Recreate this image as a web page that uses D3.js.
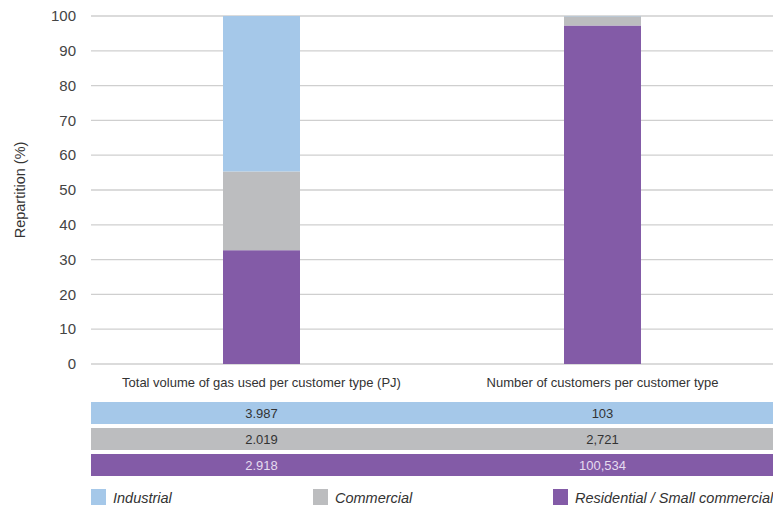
<!DOCTYPE html>
<html>
<head>
<meta charset="utf-8">
<script src="https://cdn.jsdelivr.net/npm/d3@7"></script>
<style>
  html, body { margin: 0; padding: 0; background: #fff; }
  svg { display: block; font-family: "Liberation Sans", "Helvetica Neue", Arial, sans-serif; }
</style>
</head>
<body>
<svg id="chart" width="773" height="507"></svg>
<script>
// Measures shown as columns
const categories = [
  "Total volume of gas used per customer type (PJ)",
  "Number of customers per customer type"
];
// Customer types, bottom of the stack first
const seriesNames = ["Residential / Small commercial", "Commercial", "Industrial"];
const residential = [2.918, 100534];
const commercial = [2.019, 2721];
const industrial = [3.987, 103];
// Labels printed in the table under the chart
const residentialLabels = ["2.918", "100,534"];
const commercialLabels = ["2.019", "2,721"];
const industrialLabels = ["3.987", "103"];
const yTicks = [0, 10, 20, 30, 40, 50, 60, 70, 80, 90, 100];

const colors = {
  "Industrial": "#a5c8e9",
  "Commercial": "#bcbdbf",
  "Residential / Small commercial": "#835ba7"
};

const svg = d3.select("#chart");
const plotLeft = 91, plotRight = 773, plotTop = 16, plotBottom = 364;

const x = d3.scaleBand().domain(categories).range([plotLeft, plotRight]).paddingInner(0).paddingOuter(0);
const y = d3.scaleLinear().domain([0, 100]).range([plotBottom, plotTop]);
const barW = 77;

// Gridlines and tick labels
const gy = svg.append("g");
gy.selectAll("line").data(yTicks).join("line")
  .attr("x1", plotLeft).attr("x2", plotRight)
  .attr("y1", d => y(d)).attr("y2", d => y(d))
  .attr("stroke", "#cfcfcf").attr("stroke-width", 1.3);
gy.selectAll("text").data(yTicks).join("text")
  .attr("x", 76).attr("y", d => y(d)).attr("dy", "0.35em")
  .attr("text-anchor", "end").attr("font-size", 15).attr("fill", "#444")
  .text(d => d);

svg.append("text")
  .attr("transform", `translate(25,${(plotTop + plotBottom) / 2}) rotate(-90)`)
  .attr("text-anchor", "middle").attr("font-size", 14.5).attr("fill", "#333")
  .text("Repartition (%)");

// Stack the shares (percent of each column's total)
const rows = categories.map((c, i) => {
  const total = residential[i] + commercial[i] + industrial[i];
  return {
    cat: c,
    "Residential / Small commercial": residential[i] / total * 100,
    "Commercial": commercial[i] / total * 100,
    "Industrial": industrial[i] / total * 100
  };
});
const stacked = d3.stack().keys(seriesNames)(rows);

svg.append("g").selectAll("g").data(stacked).join("g")
  .attr("fill", d => colors[d.key])
  .selectAll("rect").data(d => d).join("rect")
  .attr("x", d => x(d.data.cat) + x.bandwidth() / 2 - barW / 2)
  .attr("width", barW)
  .attr("y", d => y(d[1]))
  .attr("height", d => y(d[0]) - y(d[1]));

// Category labels
svg.append("g").selectAll("text").data(categories).join("text")
  .attr("x", d => x(d) + x.bandwidth() / 2).attr("y", 387)
  .attr("text-anchor", "middle").attr("font-size", 13).attr("fill", "#333")
  .text(d => d);

// Value table
const tableRows = [
  { key: "Industrial", labels: industrialLabels, y: 402, text: "#333" },
  { key: "Commercial", labels: commercialLabels, y: 428, text: "#333" },
  { key: "Residential / Small commercial", labels: residentialLabels, y: 454, text: "#e6dcef" }
];
const rowH = 22;
const tg = svg.append("g").selectAll("g").data(tableRows).join("g");
tg.append("rect")
  .attr("x", plotLeft).attr("width", plotRight - plotLeft)
  .attr("y", d => d.y).attr("height", rowH)
  .attr("fill", d => colors[d.key]);
tg.selectAll("text").data(d => d.labels.map((l, i) => ({ l, i, r: d }))).join("text")
  .attr("x", d => x(categories[d.i]) + x.bandwidth() / 2)
  .attr("y", d => d.r.y + rowH / 2).attr("dy", "0.35em")
  .attr("text-anchor", "middle").attr("font-size", 13)
  .attr("fill", d => d.r.text)
  .text(d => d.l);

// Legend
const legendItems = [
  { key: "Industrial", x: 91 },
  { key: "Commercial", x: 313 },
  { key: "Residential / Small commercial", x: 553 }
];
const lg = svg.append("g").selectAll("g").data(legendItems).join("g");
lg.append("rect")
  .attr("x", d => d.x).attr("y", 489).attr("width", 15).attr("height", 16)
  .attr("fill", d => colors[d.key]);
lg.append("text")
  .attr("x", d => d.x + 22).attr("y", 498).attr("dy", "0.35em")
  .attr("font-size", 14.5).attr("font-style", "italic").attr("fill", "#333")
  .text(d => d.key);
</script>
</body>
</html>
